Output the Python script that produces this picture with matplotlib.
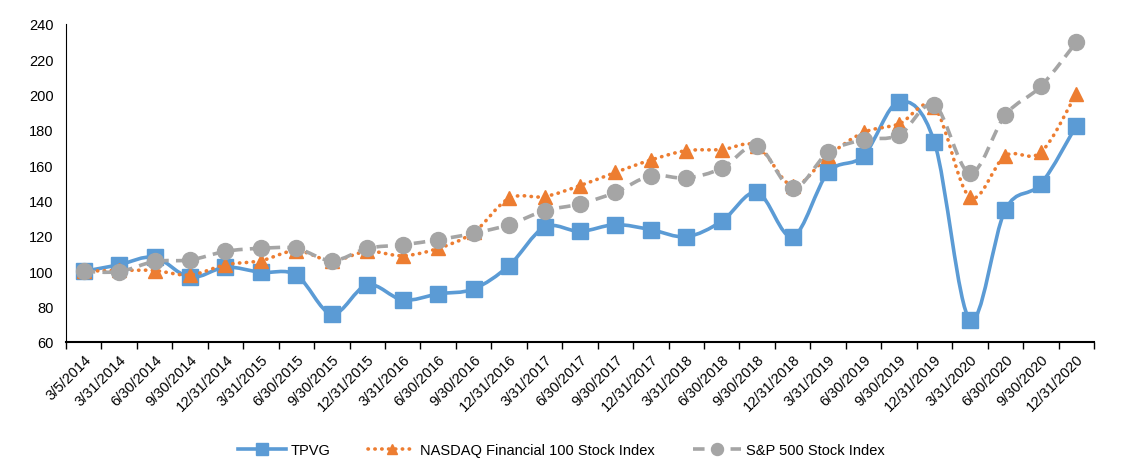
import matplotlib
matplotlib.use("Agg")
import matplotlib.pyplot as plt
from matplotlib.path import Path
from matplotlib.patches import PathPatch
from matplotlib.lines import Line2D
import numpy as np

plt.rcParams['font.family'] = ['Liberation Sans', 'DejaVu Sans']

dates = ["3/5/2014", "3/31/2014", "6/30/2014", "9/30/2014", "12/31/2014",
         "3/31/2015", "6/30/2015", "9/30/2015", "12/31/2015",
         "3/31/2016", "6/30/2016", "9/30/2016", "12/31/2016",
         "3/31/2017", "6/30/2017", "9/30/2017", "12/31/2017",
         "3/31/2018", "6/30/2018", "9/30/2018", "12/31/2018",
         "3/31/2019", "6/30/2019", "9/30/2019", "12/31/2019",
         "3/31/2020", "6/30/2020", "9/30/2020", "12/31/2020"]

tpvg = [100, 103.7, 107.9, 96.6, 102.3, 99.4, 97.9, 75.8, 92.4, 83.8, 87.2, 90.0, 103.2,
        125.0, 122.6, 126.4, 123.6, 119.6, 128.3, 144.7, 119.6,
        156.0, 165.4, 196.0, 173.0, 72.6, 134.9, 149.4, 182.4]
nasdaq = [100, 100.5, 100.4, 97.9, 103.7, 106.0, 111.7, 106.0, 111.3, 108.8, 113.0, 122.0, 141.3,
          142.3, 148.5, 156.0, 163.0, 168.3, 168.9, 171.0, 148.5,
          165.4, 178.6, 183.4, 192.8, 141.9, 165.4, 167.3, 200.4]
sp500 = [100, 99.8, 105.6, 106.4, 111.3, 113.0, 113.0, 106.0, 113.0, 115.0, 117.9, 121.5, 126.4,
         134.3, 138.1, 144.7, 154.1, 152.8, 158.3, 170.9, 147.0,
         167.3, 174.5, 177.1, 194.1, 155.6, 188.5, 204.7, 229.6]

series_names = ["TPVG", "NASDAQ Financial 100 Stock Index", "S&P 500 Stock Index"]
yticks = [60, 80, 100, 120, 140, 160, 180, 200, 220, 240]

colors = ["#5B9BD5", "#ED7D31", "#A5A5A5"]
markers = ["s", "^", "o"]
msizes = [11, 10.5, 11.5]
styles = ["-", (0, (0.1, 1.8)), (0, (3.2, 2.0))]
caps = ["round", "round", "butt"]


def smooth_path(x, y):
    x = np.asarray(x, float)
    y = np.asarray(y, float)
    n = len(x)
    verts = [(x[0], y[0])]
    codes = [Path.MOVETO]
    for i in range(n - 1):
        i0 = max(i - 1, 0)
        i3 = min(i + 2, n - 1)
        c1 = (x[i] + (x[i + 1] - x[i0]) / 6.0, y[i] + (y[i + 1] - y[i0]) / 6.0)
        c2 = (x[i + 1] - (x[i3] - x[i]) / 6.0, y[i + 1] - (y[i3] - y[i]) / 6.0)
        verts += [c1, c2, (x[i + 1], y[i + 1])]
        codes += [Path.CURVE4] * 3
    return Path(verts, codes)


fig = plt.figure(figsize=(11.22, 4.77), dpi=100)
ax = fig.add_axes([0.0588, 0.281, 0.9162, 0.6666])

xs = np.arange(len(dates))
handles = []
for k, (vals, name) in enumerate(zip([tpvg, nasdaq, sp500], series_names)):
    patch = PathPatch(smooth_path(xs, vals), facecolor="none", edgecolor=colors[k],
                      lw=2.6, linestyle=styles[k], capstyle=caps[k], joinstyle="round",
                      zorder=2 + 2 * k)
    ax.add_patch(patch)
    ax.plot(xs, vals, linestyle="none", marker=markers[k], markersize=msizes[k],
            color=colors[k], markeredgecolor=colors[k], zorder=3 + 2 * k)
    h = Line2D([0], [0], color=colors[k], lw=2.6, linestyle=styles[k],
               dash_capstyle=caps[k], marker=markers[k], markersize=msizes[k] * 0.75,
               markeredgecolor=colors[k])
    handles.append(h)

ax.set_xlim(-0.5, len(dates) - 0.5)
ax.set_ylim(60, 240)
ax.set_yticks(yticks)
ax.set_yticklabels([str(v) for v in yticks], fontsize=10.5)
ax.tick_params(axis="y", length=0, pad=9)

ax.set_xticks(xs)
ax.set_xticklabels(dates, rotation=45, ha="right", rotation_mode="anchor", fontsize=10.5)
ax.tick_params(axis="x", which="major", length=0, pad=7)
ax.set_xticks(np.arange(-0.5, len(dates), 1.0), minor=True)
ax.tick_params(axis="x", which="minor", length=5, width=1, direction="out", color="black")

for s in ["top", "right"]:
    ax.spines[s].set_visible(False)
ax.spines["left"].set_color("black")
ax.spines["left"].set_linewidth(0.8)
ax.spines["bottom"].set_color("black")
ax.spines["bottom"].set_linewidth(1.5)

fig.legend(handles, series_names, loc="center", bbox_to_anchor=(0.5, 0.054), ncol=3,
           frameon=False, fontsize=10.5, handlelength=3.3, columnspacing=2.6, handletextpad=0.3)

fig.savefig("out.png", dpi=100)
